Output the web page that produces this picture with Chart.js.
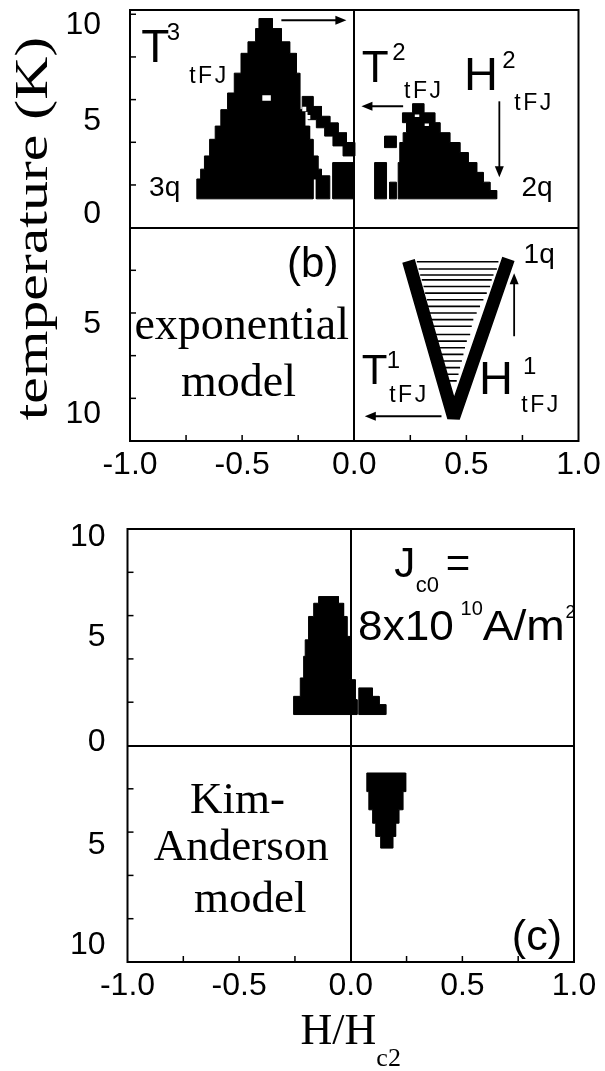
<!DOCTYPE html>
<html>
<head>
<meta charset="utf-8">
<script src="https://cdn.jsdelivr.net/npm/chart.js@4.4.1/dist/chart.umd.min.js"></script>
<style>
  html, body { margin: 0; padding: 0; background: #fff; }
  #wrap { position: relative; width: 605px; height: 1071px; overflow: hidden; background: #fff; }
  canvas { position: absolute; left: 0; }
  #panelB { top: 0; }
  #panelC { top: 490px; }
</style>
</head>
<body>
<div id="wrap">
  <canvas id="panelB" width="605" height="490"></canvas>
  <canvas id="panelC" width="605" height="581"></canvas>
</div>
<script>
// ---- axes -------------------------------------------------------------
const fieldLabels = [-1, -0.5, 0, 0.5, 1];                 // H/Hc2 labels
const fieldMinorTicks = [-0.75, -0.5, -0.25, 0.25, 0.5, 0.75];
const tempLabels = [-10, -5, 0, 5, 10];                    // T (K), mirrored about 0
const tempMinorTicks = [-10, -8, -6, -4, -2, 2, 4, 6, 8, 10];

// ---- (b) exponential model: outlines as [H/Hc2, T] -------------------
const region3q = [
  [-0.702, 1.35], [-0.702, 2.28], [-0.685, 2.28], [-0.685, 2.74], [-0.668, 2.74], [-0.668, 3.36],
  [-0.645, 3.36], [-0.645, 4.14], [-0.620, 4.14], [-0.620, 4.76], [-0.595, 4.76], [-0.595, 5.53],
  [-0.565, 5.53], [-0.565, 6.31], [-0.535, 6.31], [-0.535, 7.24], [-0.505, 7.24], [-0.505, 8.17],
  [-0.474, 8.17], [-0.474, 8.71], [-0.440, 8.71], [-0.440, 9.33], [-0.425, 9.33], [-0.425, 9.80],
  [-0.365, 9.80], [-0.365, 9.33], [-0.325, 9.33], [-0.325, 8.71], [-0.288, 8.71], [-0.288, 8.17],
  [-0.258, 8.17], [-0.258, 7.24], [-0.243, 7.24], [-0.243, 5.53], [-0.221, 5.53], [-0.221, 4.76],
  [-0.199, 4.76], [-0.199, 4.14], [-0.184, 4.14], [-0.184, 3.36], [-0.162, 3.36], [-0.162, 2.74],
  [-0.146, 2.74], [-0.146, 2.28], [-0.184, 2.28], [-0.184, 1.35]
];
const band3q = [
  [-0.232, 6.15], [-0.184, 6.15], [-0.184, 5.68], [-0.146, 5.68], [-0.146, 5.22], [-0.109, 5.22],
  [-0.109, 4.91], [-0.072, 4.91], [-0.072, 4.45], [-0.035, 4.45], [-0.035, 3.99], [0.002, 3.99],
  [0.002, 3.36], [-0.050, 3.36], [-0.050, 3.83], [-0.095, 3.83], [-0.095, 4.29], [-0.132, 4.29],
  [-0.132, 4.68], [-0.169, 4.68], [-0.169, 5.06], [-0.206, 5.06], [-0.206, 5.45], [-0.232, 5.45]
];
const column3qA = [-0.169, -0.109, 1.35, 2.43];   // [Hmin, Hmax, Tmin, Tmax]
const column3qB = [-0.095, -0.005, 1.35, 3.05];

const region2q = [
  [0.196, 1.35], [0.196, 3.05], [0.203, 3.05], [0.203, 3.99], [0.218, 3.99], [0.218, 4.45],
  [0.233, 4.45], [0.233, 4.92], [0.215, 4.92], [0.215, 5.38], [0.260, 5.38], [0.260, 5.81],
  [0.310, 5.81], [0.310, 5.38], [0.359, 5.38], [0.359, 4.92], [0.382, 4.92], [0.382, 4.45],
  [0.426, 4.45], [0.426, 3.99], [0.471, 3.99], [0.471, 3.52], [0.508, 3.52], [0.508, 3.05],
  [0.546, 3.05], [0.546, 2.59], [0.575, 2.59], [0.575, 2.13], [0.605, 2.13], [0.605, 1.74],
  [0.635, 1.74], [0.635, 1.35]
];
const spot2q = [0.136, 0.188, 3.75, 4.29];
const column2qA = [0.092, 0.144, 1.35, 3.05];
const column2qB = [0.158, 0.188, 1.35, 2.13];

// empty cells inside the 3q and 2q regions [Hmin, Hmax, Tmin, Tmax]
const voidCells = [
  [-0.410, -0.372, 5.95, 6.20],
  [-0.232, -0.214, 5.45, 5.66],
  [-0.214, -0.196, 5.08, 5.28],
  [0.270, 0.290, 5.18, 5.30],
  [0.314, 0.333, 4.76, 4.88]
];

// 1q boundary (V) and the rows inside it
const boundary1q = [[0.250, -1.85], [0.443, -8.9], [0.678, -1.75]];
const rowT1q    = [-1.60, -1.94, -2.22, -2.45, -2.76, -3.07, -3.38, -3.69, -4.00, -4.31,
                   -4.62, -5.01, -5.32, -5.63, -5.94, -6.25, -6.56, -6.87, -7.18];
const rowFrom1q = [0.279, 0.287, 0.294, 0.301, 0.309, 0.316, 0.324, 0.327, 0.331, 0.339,
                   0.346, 0.361, 0.361, 0.368, 0.376, 0.383, 0.391, 0.398, 0.410];
const rowTo1q   = [0.643, 0.636, 0.621, 0.613, 0.606, 0.591, 0.576, 0.561, 0.546, 0.531,
                   0.524, 0.517, 0.502, 0.494, 0.487, 0.480, 0.472, 0.465, 0.457];

// ---- (c) Kim-Anderson model -------------------------------------------
const peakC = [
  [-0.256, 1.43], [-0.256, 2.27], [-0.226, 2.27], [-0.226, 3.12], [-0.211, 3.12], [-0.211, 4.12],
  [-0.204, 4.12], [-0.204, 4.88], [-0.189, 4.88], [-0.189, 5.96], [-0.166, 5.96], [-0.166, 6.57],
  [-0.144, 6.57], [-0.144, 6.88], [-0.055, 6.88], [-0.055, 6.57], [-0.032, 6.57], [-0.032, 5.96],
  [-0.017, 5.96], [-0.017, 5.04], [-0.005, 5.04], [-0.005, 3.04], [0.020, 3.04], [0.020, 2.12],
  [0.028, 2.12], [0.028, 1.43]
];
const stepC = [[0.036, 1.43], [0.036, 2.66], [0.097, 2.66], [0.097, 2.27], [0.127, 2.27],
               [0.127, 1.89], [0.157, 1.89], [0.157, 1.43]];
const wedgeC = [
  [0.072, -1.27], [0.246, -1.27], [0.246, -2.13], [0.233, -2.13], [0.233, -2.97], [0.215, -2.97],
  [0.215, -3.59], [0.201, -3.59], [0.201, -4.20], [0.188, -4.20], [0.188, -4.74], [0.134, -4.74],
  [0.134, -4.20], [0.112, -4.20], [0.112, -3.59], [0.098, -3.59], [0.098, -2.97], [0.081, -2.97],
  [0.081, -2.13], [0.072, -2.13]
];

// ---- drawing helpers ---------------------------------------------------
const INK = '#000';
const PAPER = '#fff';
const SANS = "'Liberation Sans', Arial, Helvetica, sans-serif";
const SERIF = "'Liberation Serif', 'Times New Roman', serif";

const toPoints = pairs => pairs.map(p => ({ x: p[0], y: p[1] }));
const rectOutline = r => [[r[0], r[2]], [r[1], r[2]], [r[1], r[3]], [r[0], r[3]]];
const solid = (pairs, color = INK) => ({
  data: toPoints(pairs.concat([pairs[0]])),
  fill: 'shape', backgroundColor: color, borderColor: color, borderWidth: color === INK ? 1 : 0,
  pointRadius: 0, tension: 0
});

function rowsDataset() {
  const data = [];
  rowT1q.forEach((t, i) => {
    data.push({ x: rowFrom1q[i], y: t }, { x: rowTo1q[i], y: t }, { x: rowTo1q[i], y: null });
  });
  return { data, fill: false, borderColor: INK, borderWidth: 1.6, pointRadius: 0, spanGaps: false };
}

function seg(ctx, x1, y1, x2, y2) {
  ctx.beginPath(); ctx.moveTo(x1, y1); ctx.lineTo(x2, y2); ctx.stroke();
}
function drawArrow(ctx, x1, y1, x2, y2) {
  const len = Math.hypot(x2 - x1, y2 - y1), ux = (x2 - x1) / len, uy = (y2 - y1) / len;
  const head = 11, half = 4.5;
  ctx.lineWidth = 1.8;
  seg(ctx, x1, y1, x2 - ux * (head - 1), y2 - uy * (head - 1));
  ctx.beginPath();
  ctx.moveTo(x2, y2);
  ctx.lineTo(x2 - ux * head - uy * half, y2 - uy * head + ux * half);
  ctx.lineTo(x2 - ux * head + uy * half, y2 - uy * head - ux * half);
  ctx.closePath(); ctx.fill();
}

function decor(spec) {
  return {
    id: 'decor',
    afterDatasetsDraw(chart) {
      const { ctx, chartArea: a } = chart;
      const px = v => chart.scales.x.getPixelForValue(v);
      const py = v => chart.scales.y.getPixelForValue(v);
      ctx.save();
      ctx.strokeStyle = INK; ctx.fillStyle = INK;
      // frame and quadrant lines
      ctx.lineWidth = 2;
      ctx.strokeRect(a.left, a.top, a.right - a.left, a.bottom - a.top);
      seg(ctx, Math.round(px(0)), a.top, Math.round(px(0)), a.bottom);
      seg(ctx, a.left, Math.round(py(0)), a.right, Math.round(py(0)));
      // inward ticks on the left and bottom edges
      ctx.lineWidth = 1.5;
      fieldMinorTicks.forEach(v => seg(ctx, px(v), a.bottom, px(v), a.bottom - 6));
      tempMinorTicks.forEach(v => {
        const y = py(v);
        if (y > a.top + 2 && y < a.bottom - 2) seg(ctx, a.left, y, a.left + 6, y);
      });
      // temperature labels (magnitude on both sides of 0), set slightly inward
      ctx.font = `32px ${SANS}`;
      ctx.textAlign = 'right'; ctx.textBaseline = 'middle';
      tempLabels.forEach((v, i) => {
        const y = py(v) + spec.yLabelNudge[i];
        ctx.fillText(String(Math.abs(v)), a.left - spec.yPad, y);
      });
      // arrows
      spec.arrows.forEach(ar => drawArrow(ctx, px(ar.from[0]), py(ar.from[1]), px(ar.to[0]), py(ar.to[1])));
      // annotations
      ctx.textBaseline = 'alphabetic';
      spec.labels.forEach(l => {
        ctx.font = `${l.size}px ${l.serif ? SERIF : SANS}`;
        ctx.textAlign = l.align || 'left';
        ctx.letterSpacing = (l.spacing || 0) + 'px';
        const sx = l.sx || 1;
        ctx.save();
        ctx.translate(px(l.h), py(l.t));
        ctx.scale(sx, 1);
        ctx.fillText(l.text, 0, 0);
        ctx.restore();
      });
      ctx.letterSpacing = '0px';
      if (spec.title) spec.title(ctx, a, px, py);
      ctx.restore();
    }
  };
}

function panel(canvasId, datasets, spec) {
  return new Chart(document.getElementById(canvasId), {
    type: 'line',
    data: { datasets },
    options: {
      responsive: false, animation: false, devicePixelRatio: 1, events: [],
      layout: { padding: spec.padding },
      plugins: { legend: { display: false }, tooltip: { enabled: false } },
      scales: {
        x: {
          type: 'linear', min: -1, max: 1,
          afterBuildTicks: s => { s.ticks = fieldLabels.map(v => ({ value: v })); },
          afterFit: s => { s.height = 40; s.paddingLeft = 0; s.paddingRight = 0; },
          grid: { display: false, drawTicks: false }, border: { display: false },
          ticks: { font: { family: SANS, size: 32 }, color: INK, padding: spec.xPad,
                   autoSkip: false, maxRotation: 0, callback: v => Number(v).toFixed(1) }
        },
        y: {
          type: 'linear', min: spec.yMin, max: spec.yMax,
          afterBuildTicks: s => { s.ticks = tempLabels.map(v => ({ value: v })); },
          afterFit: s => { s.width = spec.yWidth; s.paddingTop = 0; s.paddingBottom = 0; },
          grid: { display: false, drawTicks: false }, border: { display: false },
          ticks: { display: false }
        }
      }
    },
    plugins: [decor(spec)]
  });
}

// ---- panel (b) ----------------------------------------------------------
panel('panelB', [
  { data: toPoints(boundary1q), fill: false, borderColor: INK, borderWidth: 13,
    borderJoinStyle: 'bevel', borderCapStyle: 'square', pointRadius: 0 },
  rowsDataset(),
  ...voidCells.map(c => solid(rectOutline(c), PAPER)),
  solid(region3q), solid(band3q), solid(rectOutline(column3qA)), solid(rectOutline(column3qB)),
  solid(region2q), solid(rectOutline(spot2q)), solid(rectOutline(column2qA)), solid(rectOutline(column2qB))
], {
  padding: { left: 0, top: 10, right: 26.5, bottom: 9 },
  yWidth: 130, yPad: 29, xPad: 5, yMin: -10, yMax: 10.2,
  yLabelNudge: [-27, -10, -13, 0, 11],
  arrows: [
    { from: [-0.325, 9.72], to: [-0.035, 9.72] },
    { from: [0.218, 5.69], to: [0.032, 5.69] },
    { from: [0.647, 5.92], to: [0.647, 2.36] },
    { from: [0.713, -5.09], to: [0.713, -2.14] },
    { from: [0.389, -8.84], to: [0.047, -8.84] }
  ],
  labels: [
    { text: 'T', h: -0.950, t: 7.77, size: 46 },
    { text: '3', h: -0.836, t: 8.79, size: 24 },
    { text: 'tFJ', h: -0.736, t: 6.79, size: 23, spacing: 2.5 },
    { text: 'T', h: 0.034, t: 6.84, size: 44 },
    { text: '2', h: 0.170, t: 7.86, size: 24 },
    { text: 'tFJ', h: 0.222, t: 6.09, size: 23, spacing: 2.5 },
    { text: 'H', h: 0.489, t: 6.47, size: 47 },
    { text: '2', h: 0.660, t: 7.49, size: 24 },
    { text: 'tFJ', h: 0.714, t: 5.53, size: 23, spacing: 2.5 },
    { text: '3q', h: -0.915, t: 1.49, size: 28 },
    { text: '2q', h: 0.746, t: 1.49, size: 28 },
    { text: '1q', h: 0.755, t: -1.67, size: 28 },
    { text: 'T', h: 0.034, t: -7.35, size: 42 },
    { text: '1', h: 0.145, t: -6.56, size: 24 },
    { text: 'tFJ', h: 0.156, t: -8.19, size: 23, spacing: 2.5 },
    { text: 'H', h: 0.556, t: -7.81, size: 47 },
    { text: '1', h: 0.752, t: -6.88, size: 24 },
    { text: 'tFJ', h: 0.745, t: -8.65, size: 23, spacing: 2.5 },
    { text: '(b)', h: -0.185, t: -2.3, size: 42, align: 'center' },
    { text: 'exponential', h: -0.502, t: -5.2, size: 46, serif: true, align: 'center' },
    { text: 'model', h: -0.516, t: -7.87, size: 46, serif: true, align: 'center' }
  ],
  title(ctx, a) {
    ctx.save();
    ctx.translate(a.left - 95, (a.top + a.bottom) / 2 + 3);
    ctx.rotate(-Math.PI / 2);
    ctx.scale(1.3, 1);
    ctx.font = `46px ${SERIF}`;
    ctx.textAlign = 'center'; ctx.textBaseline = 'middle';
    ctx.fillText('temperature (K)', 0, 0);
    ctx.restore();
  }
});

// ---- panel (c) ----------------------------------------------------------
panel('panelC', [
  solid(peakC), solid(stepC), solid(wedgeC)
], {
  padding: { left: 0, top: 39, right: 31, bottom: 69 },
  yWidth: 127.5, yPad: 22, xPad: 5, yMin: -10, yMax: 10,
  yLabelNudge: [-17, -9, -3, 0, 8],
  arrows: [],
  labels: [
    { text: 'J', h: 0.195, t: 7.78, size: 42 },
    { text: 'c0', h: 0.291, t: 7.09, size: 22 },
    { text: '=', h: 0.425, t: 7.78, size: 42 },
    { text: '8x10', h: 0.033, t: 4.87, size: 42, sx: 1.05 },
    { text: '10', h: 0.492, t: 6.03, size: 20 },
    { text: 'A/m', h: 0.591, t: 4.87, size: 42, sx: 1.1 },
    { text: '2', h: 0.962, t: 5.89, size: 18 },
    { text: 'Kim-', h: -0.507, t: -3.12, size: 45, serif: true, align: 'center' },
    { text: 'Anderson', h: -0.49, t: -5.29, size: 45, serif: true, align: 'center' },
    { text: 'model', h: -0.45, t: -7.69, size: 45, serif: true, align: 'center' },
    { text: '(c)', h: 0.834, t: -9.45, size: 43, align: 'center' }
  ],
  title(ctx, a, px) {
    ctx.save();
    ctx.textAlign = 'left'; ctx.textBaseline = 'alphabetic';
    ctx.font = `44px ${SERIF}`;
    const w1 = ctx.measureText('H/H').width;
    ctx.font = `26px ${SERIF}`;
    const w2 = ctx.measureText('c2').width;
    const x0 = px(0) - (w1 + w2) / 2, base = a.bottom + 82;
    ctx.font = `44px ${SERIF}`;
    ctx.fillText('H/H', x0, base);
    ctx.font = `26px ${SERIF}`;
    ctx.fillText('c2', x0 + w1, base + 22);
    ctx.restore();
  }
});
</script>
</body>
</html>
